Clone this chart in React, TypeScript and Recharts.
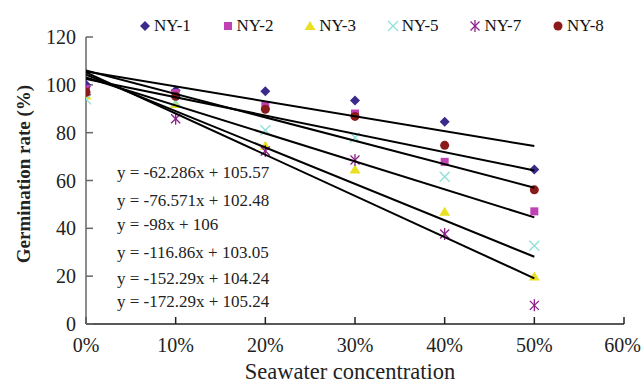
import React from 'react';
import { ScatterChart, Scatter, XAxis, YAxis, Legend } from 'recharts';

// seawater concentration (fraction)
const concentrations = [0, 0.1, 0.2, 0.3, 0.4, 0.5];

// germination rate (%)
const ny1 = [100, 97.6, 97.3, 93.5, 84.6, 64.6];
const ny2 = [98.3, 96.5, 91.4, 88, 67.8, 47.1];
const ny3 = [95.5, 92, 74.5, 64.6, 46.9, 19.9];
const ny5 = [94, 93, 81, 78, 61.6, 32.7];
const ny7 = [97.5, 85.8, 72.3, 68.6, 37.6, 7.8];
const ny8 = [96.9, 95.2, 89.8, 86.8, 74.7, 56.1];

const seriesNames = ['NY-1', 'NY-2', 'NY-3', 'NY-5', 'NY-7', 'NY-8'];
const seriesValues = [ny1, ny2, ny3, ny5, ny7, ny8];

// linear trend lines: value at 0% and at 50%
const trendX = [0, 0.5];
const trendStart = [105.57, 102.48, 106, 103.05, 104.24, 105.24];
const trendEnd = [74.4, 64.2, 57, 44.6, 28.1, 19.1];

const equations = [
  'y = -62.286x + 105.57',
  'y = -76.571x + 102.48',
  'y = -98x + 106',
  'y = -116.86x + 103.05',
  'y = -152.29x + 104.24',
  'y = -172.29x + 105.24',
];

const xTicks = [0, 0.1, 0.2, 0.3, 0.4, 0.5, 0.6];
const yTicks = [0, 20, 40, 60, 80, 100, 120];

const FONT = 'Liberation Serif, DejaVu Serif, serif';

const colors = ['#3a2a8c', '#c041b3', '#e8e020', '#8ee0d8', '#8c1f8c', '#8b1a1a'];

const Marker = ({ kind, cx, cy }: { kind: number; cx: number; cy: number }) => {
  const c = colors[kind];
  switch (kind) {
    case 0:
      return <polygon points={`${cx},${cy - 5} ${cx + 5},${cy} ${cx},${cy + 5} ${cx - 5},${cy}`} fill={c} />;
    case 1:
      return <rect x={cx - 4} y={cy - 4} width={8} height={8} fill={c} />;
    case 2:
      return <polygon points={`${cx},${cy - 5} ${cx + 5.5},${cy + 4} ${cx - 5.5},${cy + 4}`} fill={c} />;
    case 3:
      return (
        <g stroke={c} strokeWidth={1.3}>
          <line x1={cx - 5} y1={cy - 5} x2={cx + 5} y2={cy + 5} />
          <line x1={cx - 5} y1={cy + 5} x2={cx + 5} y2={cy - 5} />
        </g>
      );
    case 4:
      return (
        <g stroke={c} strokeWidth={1.3}>
          <line x1={cx - 4.5} y1={cy - 4.5} x2={cx + 4.5} y2={cy + 4.5} />
          <line x1={cx - 4.5} y1={cy + 4.5} x2={cx + 4.5} y2={cy - 4.5} />
          <line x1={cx} y1={cy - 6} x2={cx} y2={cy + 6} />
        </g>
      );
    default:
      return <circle cx={cx} cy={cy} r={4.5} fill={c} />;
  }
};

const LegendContent = () => (
  <div style={{ display: 'flex', fontFamily: FONT, fontSize: 17, color: '#111' }}>
    {seriesNames.map((n, i) => (
      <div key={n} style={{ width: 82.6, display: 'flex', alignItems: 'center' }}>
        <svg width={12} height={14} style={{ marginRight: 3 }}>
          <Marker kind={i} cx={6} cy={7} />
        </svg>
        <span>{n}</span>
      </div>
    ))}
  </div>
);

export default function App() {
  const pointSets = seriesValues.map((vals) => concentrations.map((x, j) => ({ x, y: vals[j] })));
  const trendSets = trendStart.map((s, i) => [
    { x: trendX[0], y: s },
    { x: trendX[1], y: trendEnd[i] },
  ]);

  return (
    <div style={{ position: 'relative', width: 641, height: 389, background: '#fff', fontFamily: FONT }}>
      <style>{`body{margin:0}`}</style>
      <ScatterChart width={641} height={389} margin={{ top: 17, right: 17, bottom: 0, left: 0 }}>
        <XAxis
          type="number"
          dataKey="x"
          domain={[0, 0.6]}
          ticks={xTicks}
          tickFormatter={(v: number) => `${Math.round(v * 100)}%`}
          height={65}
          tickSize={-7}
          tickMargin={21}
          stroke="#222"
          strokeWidth={1.5}
          tick={{ fill: '#222', fontSize: 20, fontFamily: FONT }}
          allowDataOverflow
        />
        <YAxis
          type="number"
          dataKey="y"
          domain={[0, 120]}
          ticks={yTicks}
          width={86}
          tickSize={-7}
          tickMargin={17}
          stroke="#666"
          strokeWidth={1.5}
          tick={{ fill: '#222', fontSize: 20, fontFamily: FONT }}
        />
        <Legend
          verticalAlign="top"
          align="left"
          wrapperStyle={{ top: 16, left: 139, width: 500 }}
          content={<LegendContent />}
        />
        {pointSets.map((pts, i) => (
          <Scatter
            key={seriesNames[i]}
            name={seriesNames[i]}
            data={pts}
            isAnimationActive={false}
            shape={(p: any) => <Marker kind={i} cx={p.cx} cy={p.cy} />}
          />
        ))}
        {trendSets.map((pts, i) => (
          <Scatter
            key={'trend' + i}
            data={pts}
            line={{ stroke: '#000', strokeWidth: 2 }}
            shape={() => <g />}
            legendType="none"
            isAnimationActive={false}
          />
        ))}
      </ScatterChart>
      {equations.map((eq, i) => (
        <div
          key={eq}
          style={{
            position: 'absolute',
            left: 117,
            top: [163, 191, 215, 243, 269, 292][i],
            fontSize: 17,
            lineHeight: '19px',
            color: '#222',
            whiteSpace: 'nowrap',
          }}
        >
          {eq}
        </div>
      ))}
      <div
        style={{
          position: 'absolute',
          left: 24 - 150,
          top: 174 - 12,
          width: 300,
          height: 24,
          lineHeight: '24px',
          textAlign: 'center',
          transform: 'rotate(-90deg)',
          fontSize: 19,
          fontWeight: 'bold',
          color: '#222',
          whiteSpace: 'nowrap',
        }}
      >
        Germination rate (%)
      </div>
      <div
        style={{
          position: 'absolute',
          left: 350 - 200,
          top: 372 - 14,
          width: 400,
          height: 28,
          lineHeight: '28px',
          textAlign: 'center',
          fontSize: 22.5,
          color: '#222',
          whiteSpace: 'nowrap',
        }}
      >
        Seawater concentration
      </div>
    </div>
  );
}
